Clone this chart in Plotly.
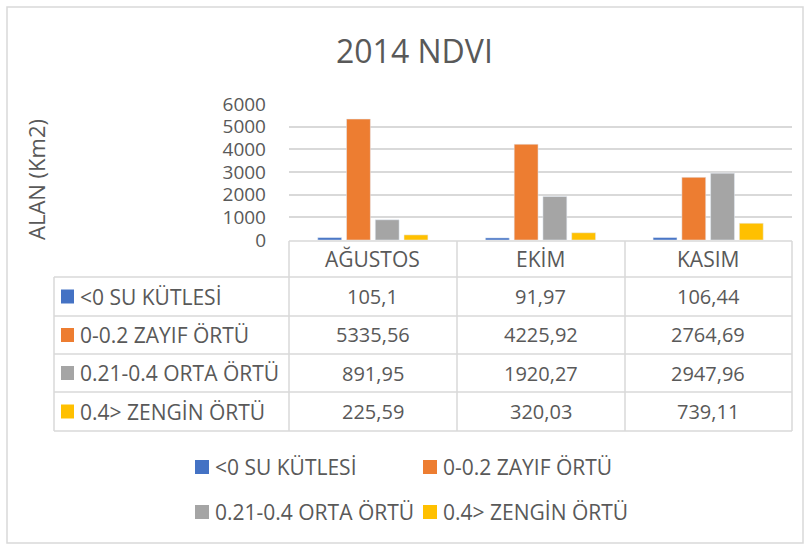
import plotly.graph_objects as go

W, H = 809, 548

months = ["AĞUSTOS", "EKİM", "KASIM"]
series_names = ["<0 SU KÜTLESİ", "0-0.2 ZAYIF ÖRTÜ", "0.21-0.4 ORTA ÖRTÜ", "0.4> ZENGİN ÖRTÜ"]
su = [105.1, 91.97, 106.44]
zayif = [5335.56, 4225.92, 2764.69]
orta = [891.95, 1920.27, 2947.96]
zengin = [225.59, 320.03, 739.11]
colors = ["#4472C4", "#ED7D31", "#A5A5A5", "#FFC000"]

series = [su, zayif, orta, zengin]

FONT = "Open Sans"
TXT = "#595959"
LINE = "#D9D9D9"


def fx(p):
    return p / W


def fy(p):
    return 1 - p / H


def fmt(v):
    return ("%g" % v).replace(".", ",")


def text(x, y, s, size=20, xref="paper", xanchor="center", **kw):
    return dict(x=x, xref=xref, y=fy(y), yref="paper", text=s,
                xanchor=xanchor, yanchor="middle", showarrow=False,
                font=dict(size=size, color=TXT), **kw)


fig = go.Figure()
for name, vals, c in zip(series_names, series, colors):
    fig.add_trace(go.Bar(x=months, y=vals, name=name, marker_color=c,
                         showlegend=False))

# plot area in pixels
PL, PR, PT, PB = 289, 792, 104, 240

shapes = []
ann = []

# outer chart border
shapes.append(dict(type="rect", xref="paper", yref="paper",
                   x0=fx(7), x1=fx(803), y0=fy(543), y1=fy(7),
                   line=dict(color=LINE, width=1.5)))

# data table lines
rows = [241, 277, 316, 354, 392, 431]
cols = [289, 457, 625, 792]
shapes.append(dict(type="line", xref="paper", yref="paper",
                   x0=fx(289), x1=fx(792), y0=fy(241), y1=fy(241),
                   line=dict(color=LINE, width=1.5)))
for r in rows[1:]:
    shapes.append(dict(type="line", xref="paper", yref="paper",
                       x0=fx(54), x1=fx(792), y0=fy(r), y1=fy(r),
                       line=dict(color=LINE, width=1.5)))
for c in cols:
    shapes.append(dict(type="line", xref="paper", yref="paper",
                       x0=fx(c), x1=fx(c), y0=fy(241), y1=fy(431),
                       line=dict(color=LINE, width=1.5)))
shapes.append(dict(type="line", xref="paper", yref="paper",
                   x0=fx(54), x1=fx(54), y0=fy(277), y1=fy(431),
                   line=dict(color=LINE, width=1.5)))

# header
for m in months:
    ann.append(text(m, 259.5, m, size=21, xref="x"))

# rows
for i, (name, vals, c) in enumerate(zip(series_names, series, colors)):
    yc = (rows[i + 1] + rows[i + 2]) / 2
    shapes.append(dict(type="rect", xref="paper", yref="paper",
                       x0=fx(61), x1=fx(74), y0=fy(yc + 7), y1=fy(yc - 7),
                       fillcolor=c, line_width=0))
    ann.append(text(fx(78), yc, name, size=21, xanchor="left"))
    for m, v in zip(months, vals):
        ann.append(text(m, yc, fmt(v), xref="x"))

# legend at bottom
leg_pos = [(195, 467), (423, 467), (195, 512), (423, 512)]
for (lx, ly), name, c in zip(leg_pos, series_names, colors):
    shapes.append(dict(type="rect", xref="paper", yref="paper",
                       x0=fx(lx), x1=fx(lx + 14), y0=fy(ly + 7), y1=fy(ly - 7),
                       fillcolor=c, line_width=0))
    ann.append(text(fx(lx + 18), ly, name, size=21, xanchor="left"))

# y axis title
ann.append(text(fx(36), 180, "ALAN (Km2)", size=22, textangle=-90))

# title
ann.append(text(fx(414), 50, "2014 NDVI", size=32))

fig.update_layout(
    width=W, height=H,
    margin=dict(l=0, r=0, t=0, b=0, pad=0, autoexpand=False),
    paper_bgcolor="white", plot_bgcolor="white",
    font=dict(family=FONT, color=TXT),
    barmode="group", bargap=0.314, bargroupgap=0.17,
    xaxis=dict(domain=[fx(PL), fx(PR)], showticklabels=False, showgrid=False,
               zeroline=False, showline=False, automargin=False),
    yaxis=dict(domain=[fy(PB), fy(PT)], range=[0, 6000], dtick=1000,
               showgrid=True, gridcolor=LINE, gridwidth=1.5, zeroline=False,
               showline=False, ticks="", ticklabelstandoff=22, automargin=False,
               tickfont=dict(size=19, color=TXT)),
    shapes=shapes, annotations=ann,
)

fig.write_html("out.html", config={"displayModeBar": False},
               post_script="document.body.style.margin='0';")
